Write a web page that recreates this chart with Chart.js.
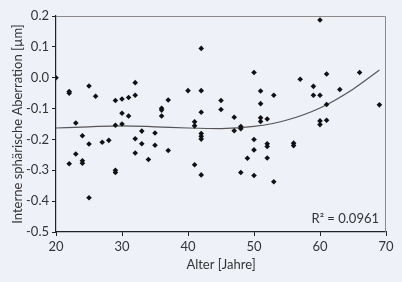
<!DOCTYPE html>
<html>
<head>
<meta charset="utf-8">
<script src="https://cdn.jsdelivr.net/npm/chart.js@4/dist/chart.umd.min.js"></script>
<style>
  html, body { margin: 0; padding: 0; background: #eef2f8; }
  #wrap { width: 402px; height: 282px; }
</style>
</head>
<body>
<div id="wrap"><canvas id="chart" width="402" height="282"></canvas></div>
<script>
// Messpunkte (Alter in Jahren, Aberration in µm)
const alter = [20, 22, 22, 22, 23, 23, 24, 24, 24, 25, 25, 25, 26, 27, 28,
  29, 29, 29, 29, 30, 30, 30, 31, 31, 32, 32, 32, 32, 33, 33, 34, 35, 35,
  36, 36, 36, 37, 37, 40, 41, 41, 41, 42, 42, 42, 42, 42, 42, 42, 45, 45,
  47, 47, 48, 48, 48, 49, 50, 50, 50, 50, 51, 51, 51, 51, 52, 52, 52, 52,
  53, 53, 56, 56, 57, 59, 59, 60, 60, 60, 60, 61, 61, 61, 63, 66, 69];
const aberration = [0.0, -0.045, -0.05, -0.279, -0.147, -0.247, -0.188, -0.269, -0.277, -0.027, -0.215, -0.389, -0.06, -0.209, -0.203,
  -0.074, -0.154, -0.3, -0.307, -0.069, -0.115, -0.15, -0.064, -0.124, -0.016, -0.057, -0.198, -0.244, -0.173, -0.214, -0.265, -0.179, -0.219,
  -0.099, -0.105, -0.124, -0.072, -0.236, -0.042, -0.143, -0.156, -0.282, 0.095, -0.042, -0.112, -0.181, -0.19, -0.199, -0.315, -0.074, -0.103,
  -0.128, -0.172, -0.158, -0.165, -0.307, -0.261, 0.017, -0.2, -0.234, -0.317, -0.043, -0.084, -0.13, -0.142, -0.134, -0.214, -0.223, -0.26,
  -0.057, -0.337, -0.212, -0.22, -0.005, -0.028, -0.057, 0.187, -0.057, -0.14, -0.152, 0.012, -0.087, -0.138, -0.038, 0.017, -0.088];

// Trendlinie
const trendX = [20, 25, 30, 35, 40, 45, 50, 55, 60, 65, 69];
const trendY = [-0.163, -0.159, -0.156, -0.159, -0.163, -0.165, -0.158, -0.137, -0.098, -0.037, 0.025];

const yTicks = [-0.5, -0.4, -0.3, -0.2, -0.1, 0.0, 0.1, 0.2];
const rQuadrat = 'R² = 0.0961';

const textFarbe = '#333333';
const schrift = { family: 'Lato, "Open Sans", sans-serif', size: 13 };

const punkte = alter.map((x, i) => ({ x: x, y: aberration[i] }));
const trend = trendX.map((x, i) => ({ x: x, y: trendY[i] }));

// Hintergrund, Rahmen und R²-Text
const rahmenPlugin = {
  id: 'rahmen',
  beforeDraw(chart) {
    const ctx = chart.ctx;
    ctx.save();
    ctx.fillStyle = '#eef2f8';
    ctx.fillRect(0, 0, chart.width, chart.height);
    ctx.restore();
  },
  afterDraw(chart) {
    const a = chart.chartArea;
    const ctx = chart.ctx;
    ctx.save();
    ctx.strokeStyle = '#8a8a8a';
    ctx.lineWidth = 1;
    ctx.beginPath();
    ctx.moveTo(a.left, a.top + 0.5);
    ctx.lineTo(a.right - 0.5, a.top + 0.5);
    ctx.lineTo(a.right - 0.5, a.bottom);
    ctx.stroke();
    ctx.fillStyle = textFarbe;
    ctx.font = '13px ' + schrift.family;
    ctx.textAlign = 'right';
    ctx.textBaseline = 'alphabetic';
    ctx.fillText(rQuadrat, a.right - 7, a.bottom - 9);
    ctx.restore();
  }
};

new Chart(document.getElementById('chart'), {
  type: 'scatter',
  data: {
    datasets: [{
      data: punkte,
      pointStyle: 'rectRot',
      pointRadius: 2.8,
      backgroundColor: '#111111',
      borderColor: '#111111',
      borderWidth: 0
    }, {
      type: 'line',
      data: trend,
      showLine: true,
      pointRadius: 0,
      borderColor: '#555555',
      borderWidth: 1.2,
      tension: 0.4,
      cubicInterpolationMode: 'monotone',
      fill: false
    }]
  },
  plugins: [rahmenPlugin],
  options: {
    responsive: false,
    animation: false,
    layout: { padding: { left: 0, right: 16, top: 16, bottom: 0 } },
    plugins: {
      legend: { display: false },
      tooltip: { enabled: false }
    },
    scales: {
      x: {
        type: 'linear',
        min: 20,
        max: 70,
        afterFit: s => { s.height = 50; },
        ticks: { stepSize: 10, color: textFarbe, font: schrift, padding: 3, maxRotation: 0 },
        grid: { drawOnChartArea: false, drawTicks: true, tickLength: 4, color: '#222222' },
        border: { color: '#222222', width: 1.2 },
        title: { display: true, text: 'Alter [Jahre]', color: textFarbe, font: schrift, padding: { top: 0, bottom: 9 } }
      },
      y: {
        type: 'linear',
        min: -0.5,
        max: 0.2,
        afterFit: s => { s.width = 56; },
        afterBuildTicks: s => { s.ticks = yTicks.map(v => ({ value: v })); },
        ticks: { color: textFarbe, font: schrift, padding: 3, callback: v => v.toFixed(1) },
        grid: { drawOnChartArea: false, drawTicks: true, tickLength: 4, color: '#222222' },
        border: { color: '#222222', width: 1.2 },
        title: { display: true, text: 'Interne sphärische Aberration [µm]', color: textFarbe, font: schrift, padding: { top: 10, bottom: 0 } }
      }
    }
  }
});
</script>
</body>
</html>
